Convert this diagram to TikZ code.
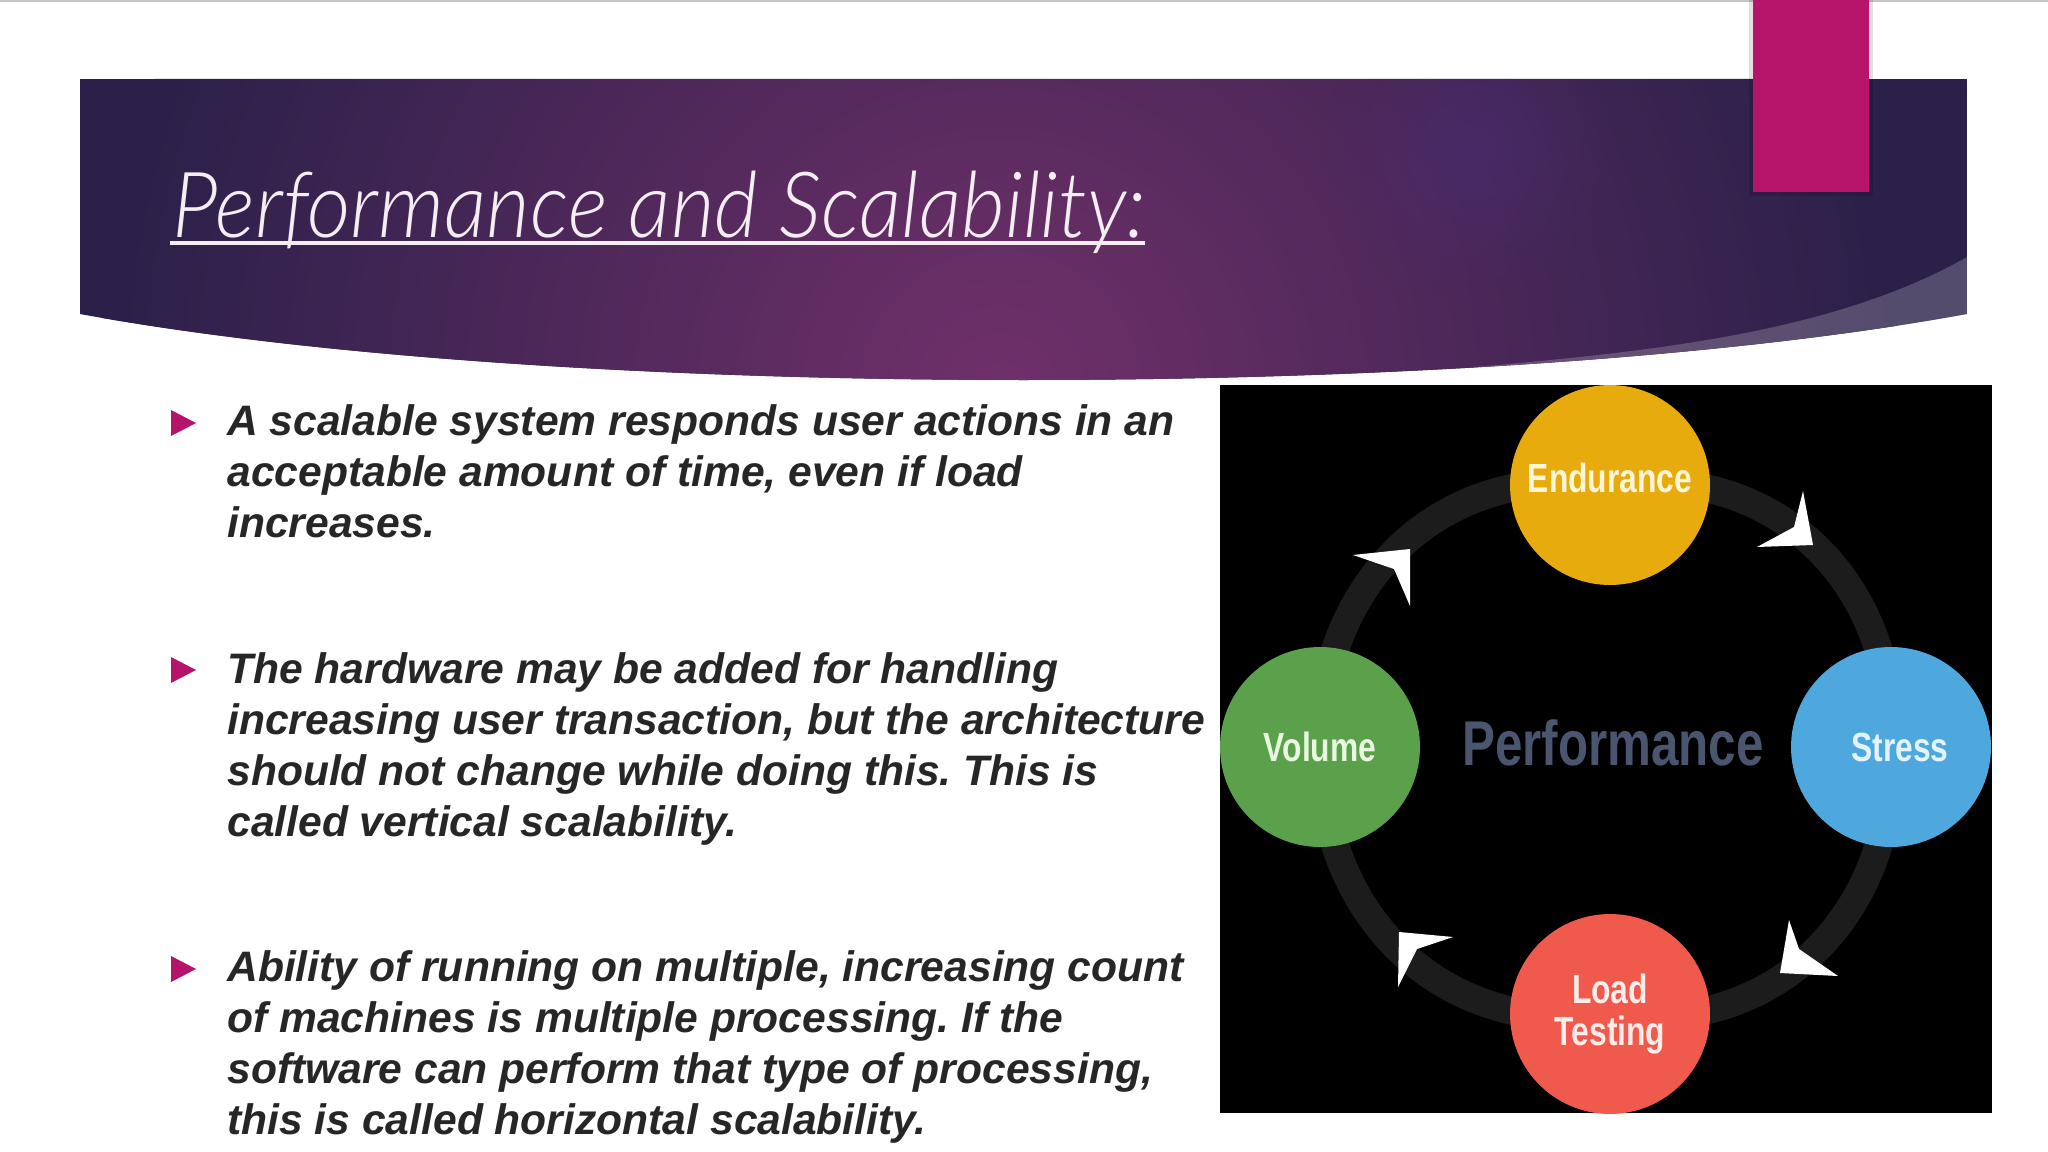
\documentclass[tikz,border=0pt]{standalone}
\usepackage{fontspec}
\setmainfont{Liberation Sans}
\newfontfamily\titlefont[FakeStretch=0.925]{Lato Light Italic}
\newfontfamily\capfont[FakeStretch=0.78]{Liberation Sans Bold}
\usetikzlibrary{fadings}
\tikzfading[name=glowfade,inner color=transparent!0,outer color=transparent!100]
\definecolor{bookmark}{HTML}{B5146A}
\definecolor{bannermid}{HTML}{70306A}
\definecolor{banneredge}{HTML}{2A2049}
\definecolor{glowviolet}{HTML}{4B2C70}
\definecolor{bodyink}{HTML}{262626}
\definecolor{ringgray}{HTML}{1C1C1C}
\definecolor{perfink}{HTML}{4A5670}
\definecolor{endfill}{HTML}{E8AB0D}
\definecolor{endink}{HTML}{FFF5D8}
\definecolor{strfill}{HTML}{4EA8DE}
\definecolor{strink}{HTML}{E4F4FF}
\definecolor{volfill}{HTML}{5BA04B}
\definecolor{volink}{HTML}{EAF7E0}
\definecolor{loadfill}{HTML}{EF5A4C}
\definecolor{loadink}{HTML}{FFECE8}
\tikzset{
  bodytext/.style={anchor=north west,align=left,inner sep=0pt,text=bodyink,font=\fontsize{24.25}{29.1}\selectfont\bfseries\itshape\frenchspacing},
  stage/.style={circle,minimum size=4cm,inner sep=0pt,align=center,font=\capfont\fontsize{23.2}{23.8}\selectfont},
  ringline/.style={ringgray,line width=0.56cm,looseness=1.1},
  tipfill/.style={fill=white}
}
\begin{document}
\begin{tikzpicture}[x=0.02cm,y=-0.02cm]
        \useasboundingbox (0,0) rectangle (2048,1152);
        \fill[white] (0,0) rectangle (2048,1152);
        \fill[black!22] (0,0) rectangle (2048,2);
        % banner
        \begin{scope}
            \clip (80,79) -- (1967,79) -- (1967,314) .. controls (1487,402) and (560,402) .. (80,314) -- cycle;
            \fill[banneredge] (80,79) rectangle (1967,400);
            \shade[inner color=bannermid,outer color=banneredge] (1000,390) circle (900);
            \fill[glowviolet,path fading=glowfade,opacity=.6] (1470,150) circle (150);
            \fill[white,opacity=.2] (1967,257) .. controls (1830,335) and (1640,352) .. (1476,367) -- (1476,420) -- (1990,420) -- cycle;
        \end{scope}
        \fill[black,opacity=.12] (1749,0) rectangle (1873,196);
        \fill[bookmark] (1753,0) rectangle (1869,192);
        \node[anchor=base west,inner sep=0pt,text=white!92!bannermid,font=\titlefont\fontsize{52}{54}\selectfont] (title) at (172,237) {Performance and Scalability:};
        \fill[white!92!bannermid] (170,241) rectangle (1145,245.5);
        % text
        \foreach \y in {423,670,969}
            \fill[bookmark] (171,\y-13) -- (196,\y) -- (171,\y+13) -- cycle;
        \node[bodytext] (first) at (227,404) {A scalable system responds user actions in an\\acceptable amount of time, even if load\\increases.};
        \node[bodytext] (second) at (227,652) {The hardware may be added for handling\\increasing user transaction, but the architecture\\should not change while doing this. This is\\called vertical scalability.};
        \node[bodytext] (third) at (227,950) {Ability of running on multiple, increasing count\\of machines is multiple processing. If the\\software can perform that type of processing,\\this is called horizontal scalability.};
        % picture
        \fill[black] (1220,385) rectangle (1992,1113);
        \coordinate (ringtop) at (1610,485);
        \coordinate (ringright) at (1891,747);
        \coordinate (ringbottom) at (1610,1014);
        \coordinate (ringleft) at (1320,747);
        \draw[ringline] (ringtop) to[out=8,in=88] (ringright) to[out=-88,in=-8] (ringbottom) to[out=188,in=-90] (ringleft) to[out=90,in=172] (ringtop);
        \node[stage,fill=endfill,text=endink,text depth=0.28cm] (endurance) at (ringtop) {Endurance};
        \node[stage,fill=strfill,text=strink] (stress) at (ringright) {\hspace*{0.36cm}Stress};
        \node[stage,fill=volfill,text=volink] (volume) at (ringleft) {Volume};
        \node[stage,fill=loadfill,text=loadink] (load) at (ringbottom) {Load\\Testing};
        \node[text=perfink,inner sep=0pt,font=\capfont\fontsize{36}{40}\selectfont] (perf) at (1613,743) {Performance};
        \fill[tipfill] (1813,545) -- (1803,491) -- (1794,527) -- (1757,547) -- cycle;
        \fill[tipfill] (1780,973) -- (1789,920) -- (1799,949) -- (1838,976) -- cycle;
        \fill[tipfill] (1399,932) -- (1453,937) -- (1417,949) -- (1398,987) -- cycle;
        \fill[tipfill] (1410,549) -- (1353,555) -- (1394,569) -- (1410,606) -- cycle;
    \end{tikzpicture}
\end{document}
